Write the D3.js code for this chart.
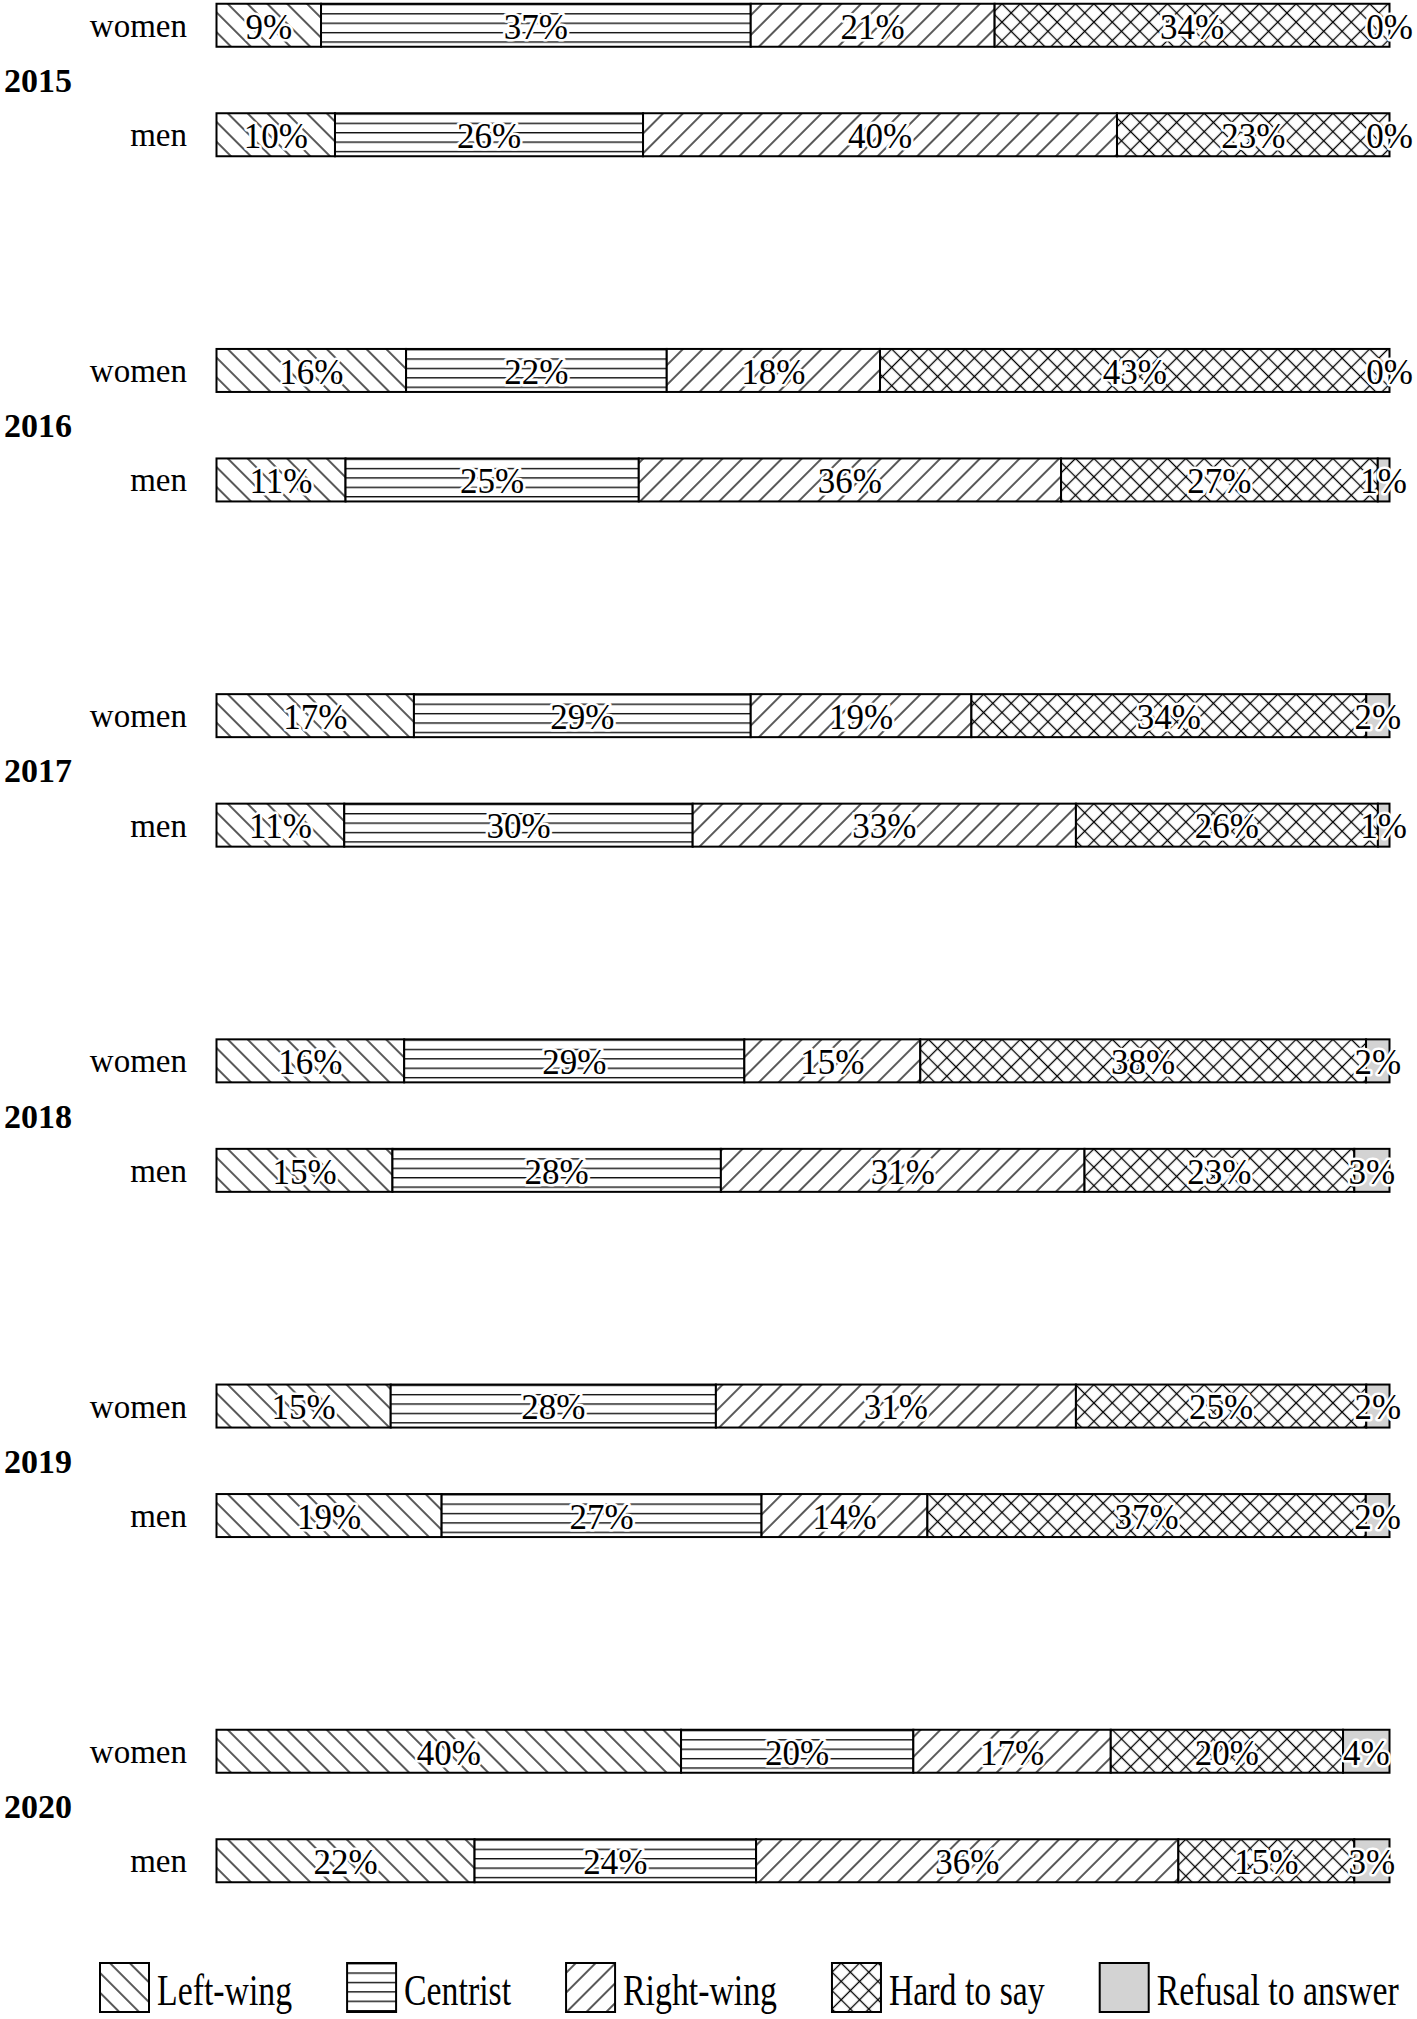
<!DOCTYPE html>
<html>
<head>
<meta charset="utf-8">
<script src="https://cdn.jsdelivr.net/npm/d3@7"></script>
<style>
  body { margin: 0; background: #fff; }
  svg text { font-family: "Liberation Serif", "Times New Roman", serif; fill: #000; }
</style>
</head>
<body>
<div id="chart"></div>
<script>
/**
 * DATA
 * rows go year by year, women first then men
 */
const years = [2015, 2016, 2017, 2018, 2019, 2020];
const genders = ["women", "men"];
const categories = ["Left-wing", "Centrist", "Right-wing", "Hard to say", "Refusal to answer"];

const leftWing  = [9, 10, 16, 11, 17, 11, 16, 15, 15, 19, 40, 22];
const centrist  = [37, 26, 22, 25, 29, 30, 29, 28, 28, 27, 20, 24];
const rightWing = [21, 40, 18, 36, 19, 33, 15, 31, 31, 14, 17, 36];
const hardToSay = [34, 23, 43, 27, 34, 26, 38, 23, 25, 37, 20, 15];
const refusal   = [0, 0, 0, 1, 2, 1, 2, 3, 2, 2, 4, 3];

/**
 * CONSTANTS
 */
const width = 1417,
  height = 2019,
  margin = { left: 216.5, right: 27.5 };

const series = [leftWing, centrist, rightWing, hardToSay, refusal];

// build one record per bar
const rows = years.flatMap((yr, i) => genders.map((g, j) => {
  const rec = { year: yr, gender: g };
  categories.forEach((c, k) => rec[c] = series[k][i * 2 + j]);
  return rec;
}));

const svg = d3.select("#chart")
  .append("svg")
  .attr("width", width)
  .attr("height", height);

// hatch patterns
const defs = svg.append("defs");

function hatch(id, angle, spacing, cross) {
  const p = defs.append("pattern")
    .attr("id", id)
    .attr("patternUnits", "userSpaceOnUse")
    .attr("width", spacing)
    .attr("height", spacing)
    .attr("patternTransform", `rotate(${angle})`);
  p.append("rect").attr("width", spacing).attr("height", spacing).attr("fill", "#fff");
  p.append("line")
    .attr("x1", spacing / 2).attr("x2", spacing / 2)
    .attr("y1", -1).attr("y2", spacing + 1)
    .attr("stroke", "#000").attr("stroke-width", 1.3);
  if (cross) {
    p.append("line")
      .attr("y1", spacing / 2).attr("y2", spacing / 2)
      .attr("x1", -1).attr("x2", spacing + 1)
      .attr("stroke", "#000").attr("stroke-width", 1.3);
  }
}
hatch("p-left", -45, 14);
hatch("p-right", 45, 14);
hatch("p-hard", 45, 13, true);

// horizontal lines for centrist
const pc = defs.append("pattern")
  .attr("id", "p-centre")
  .attr("patternUnits", "userSpaceOnUse")
  .attr("width", 10)
  .attr("height", 9.4);
pc.append("rect").attr("width", 10).attr("height", 9.4).attr("fill", "#fff");
pc.append("line")
  .attr("x1", -1).attr("x2", 11)
  .attr("y1", 0.7).attr("y2", 0.7)
  .attr("stroke", "#000").attr("stroke-width", 1.3);

const fill = d3.scaleOrdinal()
  .domain(categories)
  .range(["url(#p-left)", "url(#p-centre)", "url(#p-right)", "url(#p-hard)", "#d3d3d3"]);

/**
 * SCALES
 */
const x = d3.scaleLinear()
  .domain([0, 1])
  .range([margin.left, width - margin.right]);

const yYear = d3.scalePoint()
  .domain(years)
  .range([80, 1806]);

const yGender = d3.scaleBand()
  .domain(genders)
  .range([-76.25, 76.25])
  .paddingInner(0.6073);

const barH = yGender.bandwidth();

const stacked = d3.stack()
  .keys(categories)
  .offset(d3.stackOffsetExpand)(rows);

/**
 * DRAW BARS
 */
const rowG = svg.selectAll("g.row")
  .data(rows)
  .join("g")
  .attr("class", "row")
  .attr("transform", d => `translate(0, ${yYear(d.year) + yGender(d.gender)})`);

rowG.each(function (d, i) {
  const g = d3.select(this);
  const segs = stacked.map(s => ({ key: s.key, x0: s[i][0], x1: s[i][1], value: d[s.key] }));

  g.selectAll("rect.seg")
    .data(segs)
    .join("rect")
    .attr("class", "seg")
    .attr("x", s => x(s.x0))
    .attr("width", s => x(s.x1) - x(s.x0))
    .attr("y", 0)
    .attr("height", barH)
    .attr("fill", s => fill(s.key))
    .attr("stroke", "#000")
    .attr("stroke-width", 2);

  g.selectAll("text.val")
    .data(segs)
    .join("text")
    .attr("class", "val")
    .attr("x", s => x((s.x0 + s.x1) / 2))
    .attr("y", barH / 2)
    .attr("dy", "0.38em")
    .attr("text-anchor", "middle")
    .attr("font-size", 35)
    .attr("stroke", "#fff")
    .attr("stroke-width", 5)
    .attr("stroke-linejoin", "round")
    .attr("paint-order", "stroke")
    .text(s => s.value + "%");

  // gender label
  g.append("text")
    .attr("x", 187)
    .attr("y", barH / 2)
    .attr("dy", "0.35em")
    .attr("text-anchor", "end")
    .attr("font-size", 33)
    .text(d.gender);
});

// year labels
svg.selectAll("text.year")
  .data(years)
  .join("text")
  .attr("class", "year")
  .attr("x", 4)
  .attr("y", d => yYear(d))
  .attr("dy", "0.35em")
  .attr("font-size", 34)
  .attr("font-weight", "bold")
  .text(d => d);

/**
 * LEGEND
 */
const legendTop = 1963,
  sw = 49,
  squeeze = 0.768;

let lx = 100;
categories.forEach(c => {
  const item = svg.append("g").attr("transform", `translate(${lx}, ${legendTop})`);
  item.append("rect")
    .attr("width", sw)
    .attr("height", sw)
    .attr("fill", fill(c))
    .attr("stroke", "#000")
    .attr("stroke-width", 2);
  const t = item.append("text")
    .attr("transform", `translate(57, ${sw / 2 + 17.5}) scale(${squeeze}, 1)`)
    .attr("font-size", 44)
    .text(c);
  const tw = t.node().getComputedTextLength() * squeeze;
  lx += 57 + tw + 55;
});
</script>
</body>
</html>
